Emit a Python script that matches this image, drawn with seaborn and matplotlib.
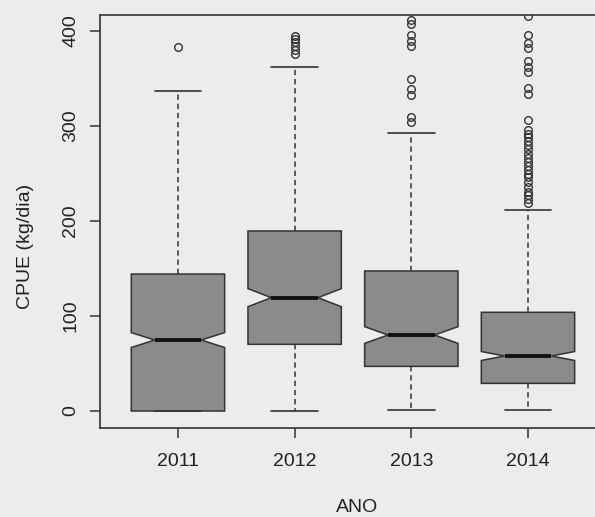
import numpy as np
import pandas as pd
import matplotlib.pyplot as plt
import seaborn as sns

# Valores (CPUE kg/dia por ano)
anos = ["2011", "2012", "2013", "2014"]

# niveis: bigode inferior, Q1, mediana, Q3, bigode superior + contagens
niveis_2011 = [0.0, 74.7, 144.2, 336.8]
contagem_2011 = [300, 230, 290, 9]
outliers_2011 = [383]

niveis_2012 = [0.5, 70.2, 119.3, 189.5, 361.8]
contagem_2012 = [50, 100, 100, 100, 32]
outliers_2012 = [376, 380, 384, 388, 392, 395]

niveis_2013 = [0.7, 47.0, 80.0, 147.4, 292.5]
contagem_2013 = [40, 80, 80, 80, 31]
outliers_2013 = [304, 310, 333, 339, 350, 384, 390, 396, 407, 412]

niveis_2014 = [1.0, 29.1, 57.9, 103.9, 212.0]
contagem_2014 = [100, 120, 190, 120, 66]
outliers_2014 = [219, 223, 227, 231, 236, 241, 246, 250, 254, 258, 262, 266,
                 271, 276, 280, 284, 288, 292, 296, 306, 334, 340, 357, 362,
                 368, 382, 387, 396, 416]

niveis = [niveis_2011, niveis_2012, niveis_2013, niveis_2014]
contagens = [contagem_2011, contagem_2012, contagem_2013, contagem_2014]
outliers = [outliers_2011, outliers_2012, outliers_2013, outliers_2014]

partes = []
for ano, nv, ct, out in zip(anos, niveis, contagens, outliers):
    v = np.concatenate([np.repeat(nv, ct), out])
    partes.append(pd.DataFrame({"ANO": ano, "CPUE": v}))
df = pd.concat(partes, ignore_index=True)

sns.set_style("ticks")
plt.rcParams["font.family"] = ["Liberation Sans", "DejaVu Sans"]

fundo = "#ececed"
escuro = "#333333"

fig = plt.figure(figsize=(5.95, 5.17), dpi=100, facecolor=fundo)
ax = fig.add_axes([0.1681, 0.1721, 0.8487, 0.7988])
ax.set_facecolor(fundo)

sns.boxplot(data=df, x="ANO", y="CPUE", order=anos, notch=True, width=0.8,
            color="#8b8b8b", saturation=1, linecolor=escuro, linewidth=1.1,
            whis=1.5, ax=ax,
            flierprops=dict(marker="o", markersize=5.5, markerfacecolor="none",
                            markeredgecolor=escuro, markeredgewidth=1.0),
            whiskerprops=dict(linestyle=(0, (3.5, 2.5)), linewidth=1.1),
            capprops=dict(linewidth=1.2),
            medianprops=dict(color="#111111", linewidth=2.8))

ax.set_xlim(-0.668, 3.66)
ax.set_ylim(-17.9, 416.8)
ax.set_yticks([0, 100, 200, 300, 400])

for s in ax.spines.values():
    s.set_color(escuro)
    s.set_linewidth(1.2)

ax.tick_params(axis="both", direction="out", length=7, width=1.1,
               color=escuro, labelsize=14, labelcolor="#222222")
ax.tick_params(axis="x", pad=11)
ax.tick_params(axis="y", pad=8, labelrotation=90)
for lb in ax.get_yticklabels():
    lb.set_va("center")

ax.set_xlabel("ANO", fontsize=14, color="#222222")
ax.set_ylabel("CPUE (kg/dia)", fontsize=14, color="#222222")
ax.xaxis.set_label_coords(0.509, -0.172)
ax.yaxis.set_label_coords(-0.13, 0.44)

fig.savefig("out.png", dpi=100, facecolor=fundo)
